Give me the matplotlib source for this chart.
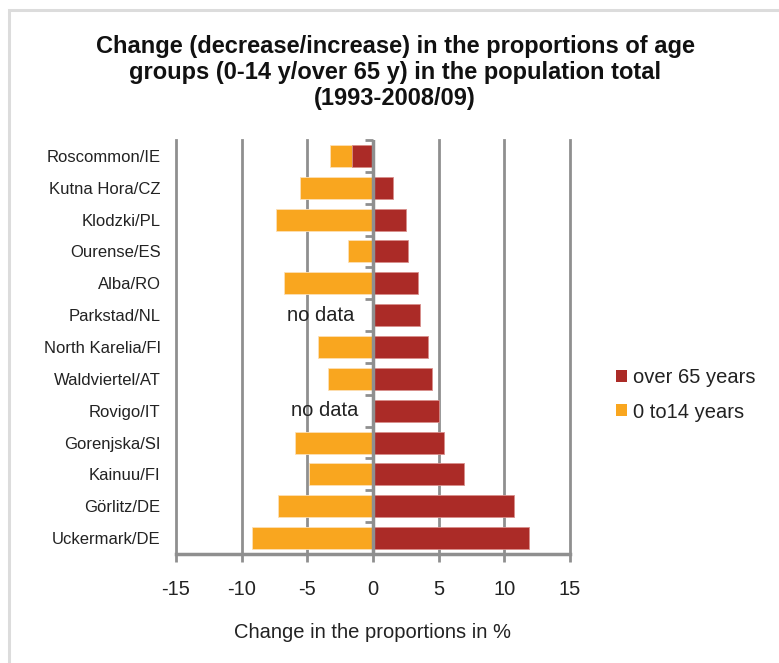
import matplotlib
matplotlib.use("Agg")
import matplotlib.pyplot as plt
from matplotlib.patches import Rectangle, Patch

regions = ["Roscommon/IE", "Kutna Hora/CZ", "Klodzki/PL", "Ourense/ES", "Alba/RO",
           "Parkstad/NL", "North Karelia/FI", "Waldviertel/AT", "Rovigo/IT",
           "Gorenjska/SI", "Kainuu/FI", "Görlitz/DE", "Uckermark/DE"]
over65 = [-1.6, 1.5, 2.5, 2.65, 3.4, 3.6, 4.2, 4.5, 5.0, 5.4, 6.95, 10.75, 11.9]
age0_14 = [-3.25, -5.55, -7.4, -1.9, -6.75, None, -4.2, -3.4, None, -5.95, -4.85, -7.2, -9.2]

x_ticks = [-15, -10, -5, 0, 5, 10, 15]

RED = "#ab2b27"
ORANGE = "#f9a61f"
GRID = "#8f8f8f"
TEXT = "#222222"

plt.rcParams["font.family"] = ["Liberation Sans", "DejaVu Sans"]

fig = plt.figure(figsize=(7.79, 6.63), dpi=100)
fig.patches.append(Rectangle((9 / 779, -0.05), 1.2, 1 - 10 / 663 + 0.05,
                             transform=fig.transFigure, fill=False,
                             edgecolor="#dcdcdc", linewidth=2.2, zorder=0))

ax = fig.add_axes([176 / 779, 1 - 554 / 663, 394 / 779, 414 / 663])

ypos = list(range(len(regions)))
ax.set_ylim(len(regions) - 0.5, -0.5)
ax.set_xlim(-15, 15)

orange_vals = [v if v is not None else 0 for v in age0_14]
ax.barh(ypos, orange_vals, height=0.69, color=ORANGE, edgecolor="#fde0b5",
        linewidth=0.6, zorder=3)
ax.barh(ypos, over65, height=0.69, color=RED, edgecolor="#d88f8c",
        linewidth=0.6, zorder=4)

for y, v in zip(ypos, age0_14):
    if v is None:
        ax.text(-4.0 if regions[y] == "Parkstad/NL" else -3.7, y, "no data",
                ha="center", va="center", fontsize=14.5, color=TEXT, zorder=6)

# Vertical grid
for xv in x_ticks:
    if xv != 0:
        ax.axvline(xv, color=GRID, linewidth=2.0, zorder=1, clip_on=False)

# Zero axis line
ax.axvline(0, color=GRID, linewidth=2.5, zorder=5)

for side in ["left", "right", "top"]:
    ax.spines[side].set_visible(False)
ax.spines["bottom"].set_color(GRID)
ax.spines["bottom"].set_linewidth(2.5)

ax.set_xticks(x_ticks)
ax.set_xticklabels([str(v) for v in x_ticks])
ax.tick_params(axis="x", length=6, width=2, color=GRID, pad=13,
               labelsize=14.5, labelcolor=TEXT)

ax.set_yticks(ypos)
ax.set_yticklabels(regions)
ax.tick_params(axis="y", length=0, pad=11, labelsize=12, labelcolor=TEXT)

# Category-boundary ticks on the zero axis
zero_ax = ax.secondary_yaxis(0.5)
for side in ["left", "right"]:
    zero_ax.spines[side].set_visible(False)
zero_ax.set_yticks([i - 0.5 for i in range(len(regions) + 1)])
zero_ax.set_yticklabels([])
zero_ax.yaxis.set_ticks_position("left")
zero_ax.tick_params(axis="y", which="both", left=True, right=False,
                    direction="out", length=6, width=2, color=GRID)

ax.set_xlabel("Change in the proportions in %", fontsize=14.5, color=TEXT,
              labelpad=17)

fig.text(395 / 779, 1 - 35 / 663,
         "Change (decrease/increase) in the proportions of age\n"
         "groups (0-14 y/over 65 y) in the population total\n"
         "(1993-2008/09)",
         ha="center", va="top", fontsize=17, fontweight="bold",
         color="#111111", linespacing=1.18)

handles = [Patch(facecolor=RED, label="over 65 years"),
           Patch(facecolor=ORANGE, label="0 to14 years")]
fig.legend(handles=handles, loc="center left",
           bbox_to_anchor=(598 / 779, 1 - 395 / 663), frameon=False,
           fontsize=14.5, handlelength=0.55, handleheight=0.55,
           handletextpad=0.3, labelspacing=0.75, labelcolor=TEXT)

fig.savefig("out.png", dpi=100)
